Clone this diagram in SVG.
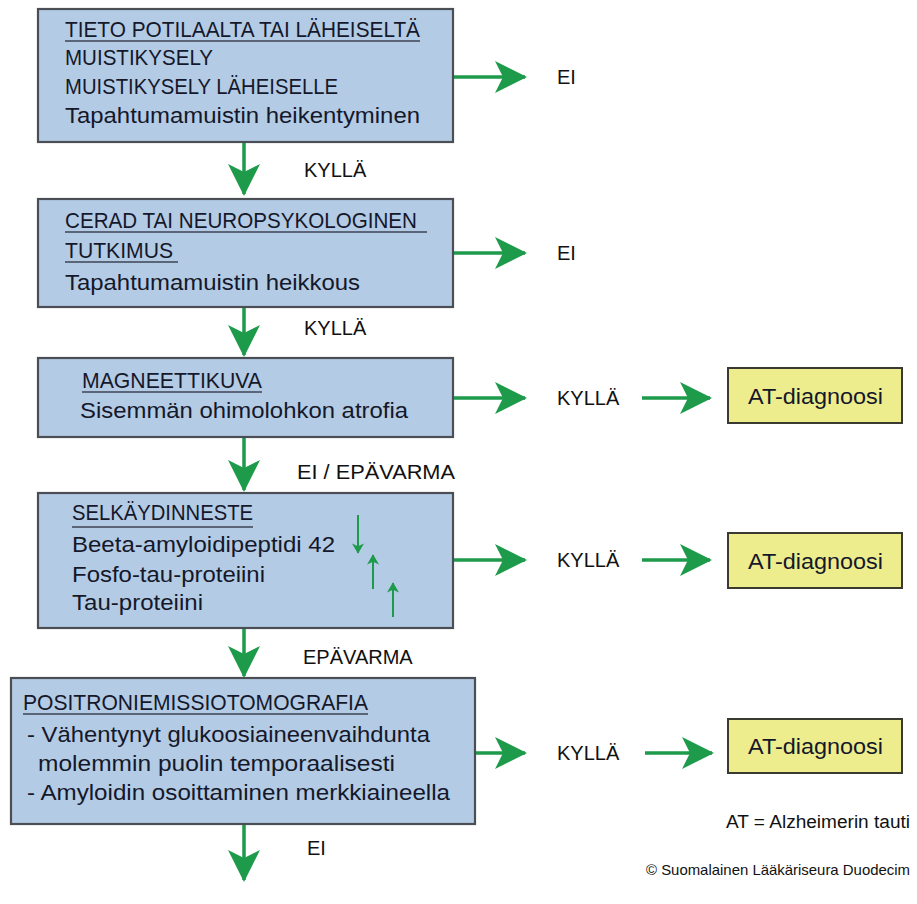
<svg xmlns="http://www.w3.org/2000/svg" width="917" height="904" viewBox="0 0 917 904">
<style>
.box{fill:#b3cbe5;stroke:#4b4f55;stroke-width:2.2}
.yb{fill:#eded8e;stroke:#3a3a30;stroke-width:2}
.t{font-family:"Liberation Sans",Arial,sans-serif;font-size:22.5px;fill:#15182a}
.lbl{font-family:"Liberation Sans",Arial,sans-serif;font-size:20px;fill:#111}
.note{font-family:"Liberation Sans",Arial,sans-serif;font-size:18px;fill:#111}
.copy{font-family:"Liberation Sans",Arial,sans-serif;font-size:15px;fill:#111}
.ul{stroke:#5b6578;stroke-width:2}
.ar{stroke:#1e9a4b;stroke-width:3.5;fill:none}
.sa{stroke:#1e9a4b;stroke-width:2;fill:none}
</style>
<defs>
<marker id="ah" viewBox="0 0 32 32" refX="30" refY="16" markerWidth="32" markerHeight="32" markerUnits="userSpaceOnUse" orient="auto">
<path d="M0,0 L32,16 L0,32 L8,16 Z" fill="#1e9a4b"/>
</marker>
<marker id="sh" viewBox="0 0 12 14" refX="11" refY="7" markerWidth="13" markerHeight="12" markerUnits="userSpaceOnUse" orient="auto">
<path d="M0,0 L12,7 L0,14 L3,7 Z" fill="#1e9a4b"/>
</marker>
</defs>
<rect width="917" height="904" fill="#ffffff"/>

<g id="connectors">
<line class="ar" x1="244" y1="142" x2="244" y2="194" marker-end="url(#ah)"/>
<line class="ar" x1="244" y1="307" x2="244" y2="355" marker-end="url(#ah)"/>
<line class="ar" x1="244" y1="437" x2="244" y2="490" marker-end="url(#ah)"/>
<line class="ar" x1="244" y1="628" x2="244" y2="676" marker-end="url(#ah)"/>
<line class="ar" x1="244" y1="824" x2="244" y2="880" marker-end="url(#ah)"/>
<line class="ar" x1="453" y1="77" x2="525" y2="77" marker-end="url(#ah)"/>
<line class="ar" x1="453" y1="253" x2="525" y2="253" marker-end="url(#ah)"/>
<line class="ar" x1="453" y1="398" x2="525" y2="398" marker-end="url(#ah)"/>
<line class="ar" x1="453" y1="560" x2="525" y2="560" marker-end="url(#ah)"/>
<line class="ar" x1="475" y1="753" x2="525" y2="753" marker-end="url(#ah)"/>
<line class="ar" x1="642" y1="398" x2="710" y2="398" marker-end="url(#ah)"/>
<line class="ar" x1="642" y1="560" x2="710" y2="560" marker-end="url(#ah)"/>
<line class="ar" x1="645" y1="753" x2="712" y2="753" marker-end="url(#ah)"/>
<text class="lbl" x="304" y="177">KYLLÄ</text>
<text class="lbl" x="304" y="335">KYLLÄ</text>
<text class="lbl" x="297" y="479" textLength="158" lengthAdjust="spacingAndGlyphs">EI / EPÄVARMA</text>
<text class="lbl" x="303" y="664">EPÄVARMA</text>
<text class="lbl" x="307" y="855">EI</text>
<text class="lbl" x="557" y="84">EI</text>
<text class="lbl" x="557" y="260">EI</text>
<text class="lbl" x="557" y="405">KYLLÄ</text>
<text class="lbl" x="557" y="567">KYLLÄ</text>
<text class="lbl" x="557" y="760">KYLLÄ</text>
</g>

<g id="n1">
<rect class="box" x="38" y="9" width="415" height="133"/>
<text class="t" x="65" y="37" textLength="355" lengthAdjust="spacingAndGlyphs">TIETO POTILAALTA TAI LÄHEISELTÄ</text>
<line class="ul" x1="65" y1="41" x2="420" y2="41"/>
<text class="t" x="65" y="65" textLength="148" lengthAdjust="spacingAndGlyphs">MUISTIKYSELY</text>
<text class="t" x="65" y="94" textLength="273" lengthAdjust="spacingAndGlyphs">MUISTIKYSELY LÄHEISELLE</text>
<text class="t" x="65" y="123" textLength="355" lengthAdjust="spacingAndGlyphs">Tapahtumamuistin heikentyminen</text>
</g>

<g id="n2">
<rect class="box" x="38" y="199" width="415" height="108"/>
<text class="t" x="65" y="228" textLength="352" lengthAdjust="spacingAndGlyphs">CERAD TAI NEUROPSYKOLOGINEN</text>
<line class="ul" x1="65" y1="232" x2="427" y2="232"/>
<text class="t" x="65" y="258" textLength="108" lengthAdjust="spacingAndGlyphs">TUTKIMUS</text>
<line class="ul" x1="65" y1="262" x2="178" y2="262"/>
<text class="t" x="65" y="290" textLength="295" lengthAdjust="spacingAndGlyphs">Tapahtumamuistin heikkous</text>
</g>

<g id="n3">
<rect class="box" x="38" y="358" width="415" height="79"/>
<text class="t" x="82" y="388" textLength="180" lengthAdjust="spacingAndGlyphs">MAGNEETTIKUVA</text>
<line class="ul" x1="82" y1="392" x2="262" y2="392"/>
<text class="t" x="80" y="418" textLength="328" lengthAdjust="spacingAndGlyphs">Sisemmän ohimolohkon atrofia</text>
</g>

<g id="n4">
<rect class="box" x="38" y="493" width="415" height="135"/>
<text class="t" x="72" y="520" textLength="181" lengthAdjust="spacingAndGlyphs">SELKÄYDINNESTE</text>
<line class="ul" x1="72" y1="527" x2="253" y2="527"/>
<text class="t" x="72" y="552" textLength="263" lengthAdjust="spacingAndGlyphs">Beeta-amyloidipeptidi 42</text>
<text class="t" x="72" y="582" textLength="193" lengthAdjust="spacingAndGlyphs">Fosfo-tau-proteiini</text>
<text class="t" x="72" y="610" textLength="131" lengthAdjust="spacingAndGlyphs">Tau-proteiini</text>
<line class="sa" x1="358" y1="515" x2="358" y2="553" marker-end="url(#sh)"/>
<line class="sa" x1="373" y1="589" x2="373" y2="555" marker-end="url(#sh)"/>
<line class="sa" x1="393" y1="617" x2="393" y2="583" marker-end="url(#sh)"/>
</g>

<g id="n5">
<rect class="box" x="11" y="678" width="464" height="146"/>
<text class="t" x="23" y="710" textLength="345" lengthAdjust="spacingAndGlyphs">POSITRONIEMISSIOTOMOGRAFIA</text>
<line class="ul" x1="23" y1="714" x2="368" y2="714"/>
<text class="t" x="27" y="742" textLength="403" lengthAdjust="spacingAndGlyphs">- Vähentynyt glukoosiaineenvaihdunta</text>
<text class="t" x="38" y="771" textLength="357" lengthAdjust="spacingAndGlyphs">molemmin puolin temporaalisesti</text>
<text class="t" x="27" y="800" textLength="423" lengthAdjust="spacingAndGlyphs">- Amyloidin osoittaminen merkkiaineella</text>
</g>

<g id="d1">
<rect class="yb" x="728" y="368" width="174" height="55"/>
<text class="t" x="748" y="404" textLength="135" lengthAdjust="spacingAndGlyphs">AT-diagnoosi</text>
</g>
<g id="d2">
<rect class="yb" x="728" y="533" width="174" height="55"/>
<text class="t" x="748" y="569" textLength="135" lengthAdjust="spacingAndGlyphs">AT-diagnoosi</text>
</g>
<g id="d3">
<rect class="yb" x="728" y="719" width="174" height="54"/>
<text class="t" x="748" y="754" textLength="135" lengthAdjust="spacingAndGlyphs">AT-diagnoosi</text>
</g>

<text class="note" x="726" y="828" textLength="184" lengthAdjust="spacingAndGlyphs">AT = Alzheimerin tauti</text>
<text class="copy" x="646" y="875" textLength="264" lengthAdjust="spacingAndGlyphs">© Suomalainen Lääkäriseura Duodecim</text>
</svg>
